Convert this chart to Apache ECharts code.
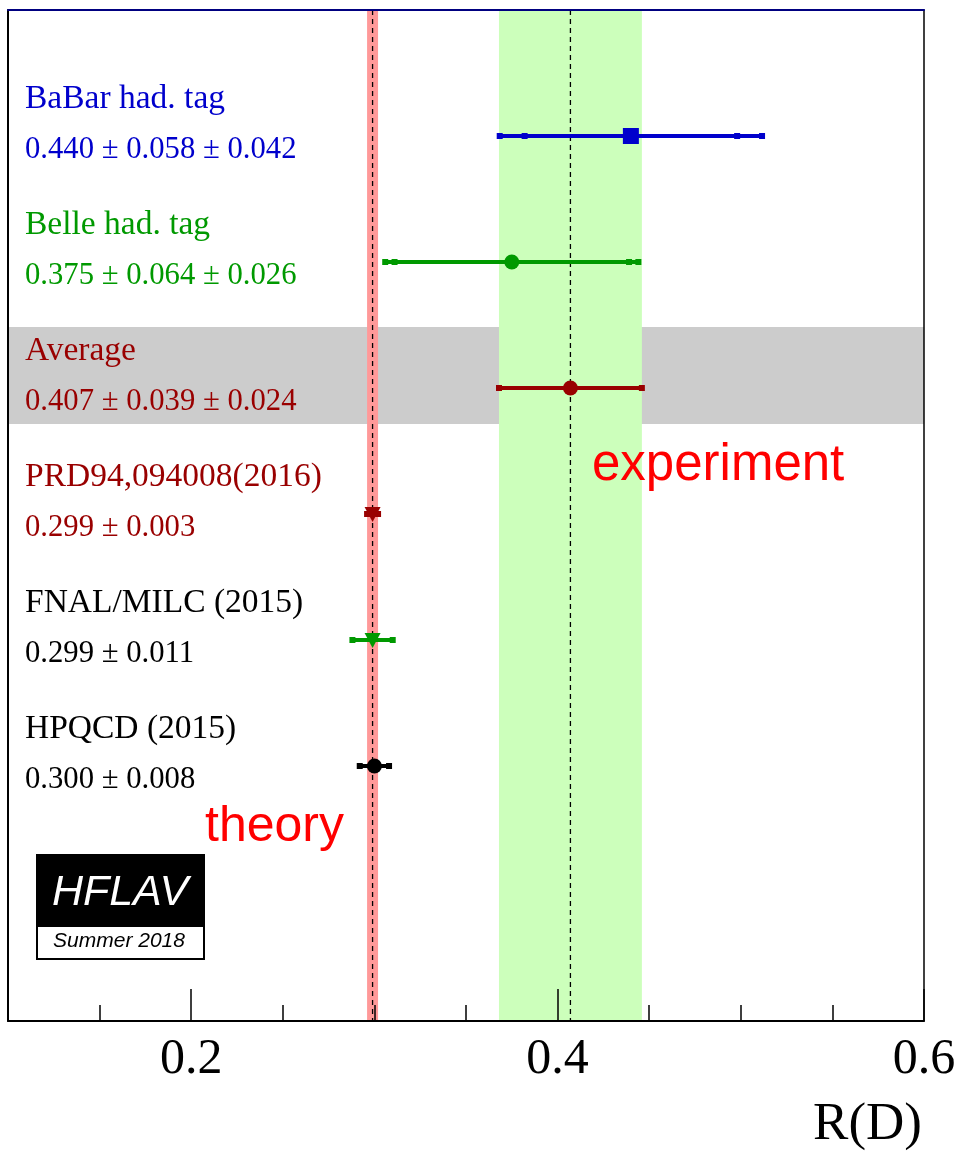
<!DOCTYPE html>
<html><head><meta charset="utf-8">
<script src="https://cdn.jsdelivr.net/npm/echarts@6/dist/echarts.min.js"></script>
<style>html,body{margin:0;padding:0;background:#fff}#c{width:962px;height:1152px}</style>
</head><body><div id="c"></div>
<script>
// ---- data ----
const names = ['BaBar had. tag', 'Belle had. tag', 'Average', 'PRD94,094008(2016)', 'FNAL/MILC (2015)', 'HPQCD (2015)'];
const valueTexts = ['0.440 ± 0.058 ± 0.042', '0.375 ± 0.064 ± 0.026', '0.407 ± 0.039 ± 0.024', '0.299 ± 0.003', '0.299 ± 0.011', '0.300 ± 0.008'];
const centrals = [0.440, 0.375, 0.407, 0.299, 0.299, 0.300];
const statErrs = [0.058, 0.064, 0.039, 0.003, 0.011, 0.008];
const totalErrs = [0.0716, 0.0691, 0.039, 0.003, 0.011, 0.008];
const nameColors = ['#0000CC', '#009900', '#990000', '#990000', '#000000', '#000000'];
const markerColors = ['#0000CC', '#009900', '#990000', '#990000', '#009900', '#000000'];
const markerShapes = ['square', 'circle', 'circle', 'triangleDown', 'triangleDown', 'circle'];
const averageRowIndex = 2;
const expValue = 0.407, expHalfWidth = 0.039;
const theoryValue = 0.299, theoryHalfWidth = 0.003;
const tickValues = [0.2, 0.4, 0.6];
const tickLabels = ['0.2', '0.4', '0.6'];
const minorTickStep = 0.05;
const xMin = 0.1, xMax = 0.6;

const chart = echarts.init(document.getElementById('c'), null, {renderer: 'canvas'});
const yMax = 1011 / 126;
const SERIF = '"Liberation Serif", "Times New Roman", serif';
const SANS = '"Liberation Sans", Arial, sans-serif';

function renderGray(params, api) {
  const cs = params.coordSys;
  const yTop = api.coord([xMin, averageRowIndex + 1 - 0.484])[1];
  const yBot = api.coord([xMin, averageRowIndex + 1 + 0.286])[1];
  return {type: 'rect', shape: {x: cs.x, y: yTop, width: cs.width, height: yBot - yTop}, style: {fill: '#CCCCCC'}};
}
function renderBand(fill) {
  return function (params, api) {
    const cs = params.coordSys;
    const c = api.value(0), hw = api.value(2);
    const l = api.coord([c - hw, 1])[0], r = api.coord([c + hw, 1])[0];
    const m = api.coord([c, 1])[0];
    return {type: 'group', children: [
      {type: 'rect', shape: {x: l, y: cs.y, width: r - l, height: cs.height}, style: {fill: fill}},
      {type: 'line', shape: {x1: m, y1: cs.y, x2: m, y2: cs.y + cs.height}, style: {stroke: '#000', lineWidth: 1.3, lineDash: [5, 4]}}
    ]};
  };
}
function renderPoint(params, api) {
  const i = api.value(2);
  const y = i + 1;
  const c = api.coord([centrals[i], y]);
  const lo = api.coord([centrals[i] - totalErrs[i], y]);
  const hi = api.coord([centrals[i] + totalErrs[i], y]);
  const sLo = api.coord([centrals[i] - statErrs[i], y]);
  const sHi = api.coord([centrals[i] + statErrs[i], y]);
  const col = markerColors[i];
  const ch = [];
  ch.push({type: 'line', shape: {x1: lo[0], y1: c[1], x2: hi[0], y2: c[1]}, style: {stroke: col, lineWidth: 4}});
  const caps = [lo[0], hi[0]];
  if (Math.abs(sLo[0] - lo[0]) > 1) { caps.push(sLo[0], sHi[0]); }
  caps.forEach(function (x) {
    ch.push({type: 'rect', shape: {x: x - 3, y: c[1] - 3, width: 6, height: 6}, style: {fill: col}});
  });
  const s = markerShapes[i];
  if (s === 'square') {
    ch.push({type: 'rect', shape: {x: c[0] - 8, y: c[1] - 8, width: 16, height: 16}, style: {fill: col}});
  } else if (s === 'circle') {
    ch.push({type: 'circle', shape: {cx: c[0], cy: c[1], r: 7.5}, style: {fill: col}});
  } else {
    ch.push({type: 'polygon', shape: {points: [[c[0] - 8, c[1] - 7], [c[0] + 8, c[1] - 7], [c[0], c[1] + 8]]}, style: {fill: col}});
  }
  ch.push({type: 'text', style: {text: names[i], x: 25, y: c[1] - 37, fill: nameColors[i], font: '33.5px ' + SERIF, align: 'left', verticalAlign: 'middle'}});
  ch.push({type: 'text', style: {text: valueTexts[i], x: 25, y: c[1] + 14, fill: nameColors[i], font: '30.7px ' + SERIF, align: 'left', verticalAlign: 'middle'}});
  return {type: 'group', children: ch};
}

const hiddenY = {type: 'value', min: 0, max: yMax, inverse: true, z: 10,
  axisTick: {show: false}, axisLabel: {show: false}, splitLine: {show: false}};

chart.setOption({
  animation: false,
  backgroundColor: '#fff',
  grid: {left: 8, right: 38, top: 10, bottom: 131, containLabel: false},
  xAxis: [
    {type: 'value', min: xMin, max: xMax, position: 'bottom', z: 10,
      axisLine: {show: true, onZero: false, lineStyle: {color: '#000', width: 2}},
      axisTick: {show: true, inside: true, length: 32, customValues: tickValues, lineStyle: {color: '#000', width: 1.5}},
      axisLabel: {show: true, customValues: tickValues,
        formatter: function (v) { const k = tickValues.findIndex(function (t) { return Math.abs(t - v) < 1e-9; }); return k >= 0 ? tickLabels[k] : ''; },
        fontFamily: SERIF, fontSize: 50, color: '#000', margin: 14},
      splitLine: {show: false}},
    {type: 'value', min: xMin, max: xMax, interval: minorTickStep, position: 'bottom', z: 10,
      axisLine: {show: false, onZero: false},
      axisTick: {show: true, inside: true, length: 16, lineStyle: {color: '#000', width: 1.5}},
      axisLabel: {show: false}, splitLine: {show: false}},
    {type: 'value', min: xMin, max: xMax, position: 'top', z: 10,
      axisLine: {show: true, onZero: false, lineStyle: {color: '#000080', width: 2}},
      axisTick: {show: false}, axisLabel: {show: false}, splitLine: {show: false}}
  ],
  yAxis: [
    Object.assign({}, hiddenY, {position: 'left', axisLine: {show: true, onZero: false, lineStyle: {color: '#000', width: 2}}}),
    Object.assign({}, hiddenY, {position: 'right', axisLine: {show: true, onZero: false, lineStyle: {color: '#000', width: 1.5}}})
  ],
  series: [
    {type: 'custom', z: 1, renderItem: renderGray, data: [[expValue, averageRowIndex + 1]], silent: true},
    {type: 'custom', z: 2, renderItem: renderBand('#CCFFBB'), data: [[expValue, 1, expHalfWidth]], encode: {x: 0, y: 1}, silent: true},
    {type: 'custom', z: 2, renderItem: renderBand('#FF9999'), data: [[theoryValue, 1, theoryHalfWidth]], encode: {x: 0, y: 1}, silent: true},
    {type: 'custom', z: 5, renderItem: renderPoint, encode: {x: 0, y: 1},
      data: centrals.map(function (v, i) { return [v, i + 1, i]; }), silent: true}
  ],
  graphic: [
    {type: 'text', z: 20, style: {text: 'experiment', x: 592, y: 466, fill: '#FF0000', font: '51px ' + SANS, align: 'left', verticalAlign: 'middle'}},
    {type: 'text', z: 20, style: {text: 'theory', x: 205, y: 827, fill: '#FF0000', font: '50px ' + SANS, align: 'left', verticalAlign: 'middle'}},
    {type: 'rect', z: 20, shape: {x: 36, y: 854, width: 169, height: 72}, style: {fill: '#000'}},
    {type: 'rect', z: 20, shape: {x: 37, y: 926, width: 167, height: 33}, style: {fill: '#fff', stroke: '#000', lineWidth: 2}},
    {type: 'text', z: 21, style: {text: 'HFLAV', x: 120, y: 893, fill: '#fff', font: 'italic 43px ' + SANS, align: 'center', verticalAlign: 'middle'}},
    {type: 'text', z: 21, style: {text: 'Summer 2018', x: 119, y: 941, fill: '#000', font: 'italic 21px ' + SANS, align: 'center', verticalAlign: 'middle'}},
    {type: 'text', z: 20, style: {text: 'R(D)', x: 922, y: 1125, fill: '#000', font: '53px ' + SERIF, align: 'right', verticalAlign: 'middle'}}
  ]
});
</script>
</body></html>
